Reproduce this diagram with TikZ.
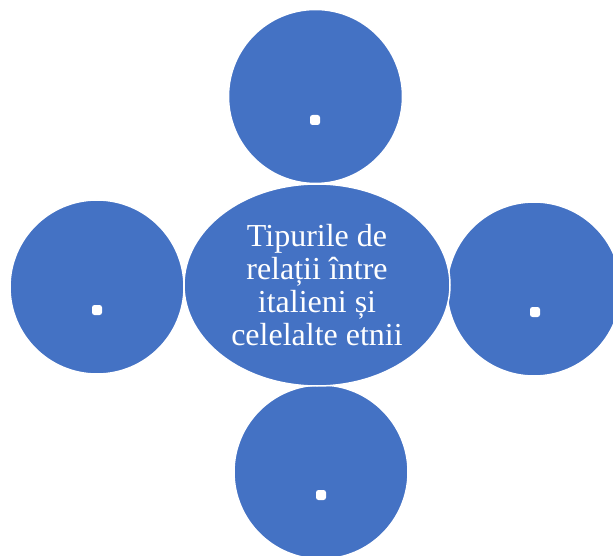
\documentclass[tikz,border=0pt]{standalone}
\usepackage{fontspec}
\setmainfont{Liberation Serif}
\usepackage{tikz}
\usetikzlibrary{shapes,positioning}

\definecolor{officeblue}{HTML}{4472C4}

\begin{document}
\begin{tikzpicture}[
    x=1pt, y=-1pt,
    bubble/.style={circle, draw=white, line width=1.5pt, fill=officeblue, minimum size=174pt, inner sep=0pt},
    hub/.style={ellipse, draw=white, line width=1.5pt, fill=officeblue, minimum width=266pt, minimum height=202pt, inner sep=0pt, align=center, text=white, font=\fontsize{32}{33}\selectfont},
    dot/.style={rectangle, rounded corners=2.5pt, fill=white, minimum size=10pt, inner sep=0pt}
]

% Canvas
\useasboundingbox (0,0) rectangle (613,556);

% Outer circles
\node[bubble] (top) at (315.5,96.5) {};
\node[bubble] (left) at (97,287) {};
\node[bubble] (right) at (534,289) {};
\node[bubble] (bottom) at (321,472) {};

% Centre ellipse
\node[hub] (centre) at (317,285) {Tipurile de\\relații între\\italieni și\\celelalte etnii};

% Dots in the circles
\node[dot] (dot_top) at (315,120) {};
\node[dot] (dot_left) at (97,310) {};
\node[dot] (dot_right) at (535,312) {};
\node[dot] (dot_bottom) at (321,495) {};

\end{tikzpicture}
\end{document}
